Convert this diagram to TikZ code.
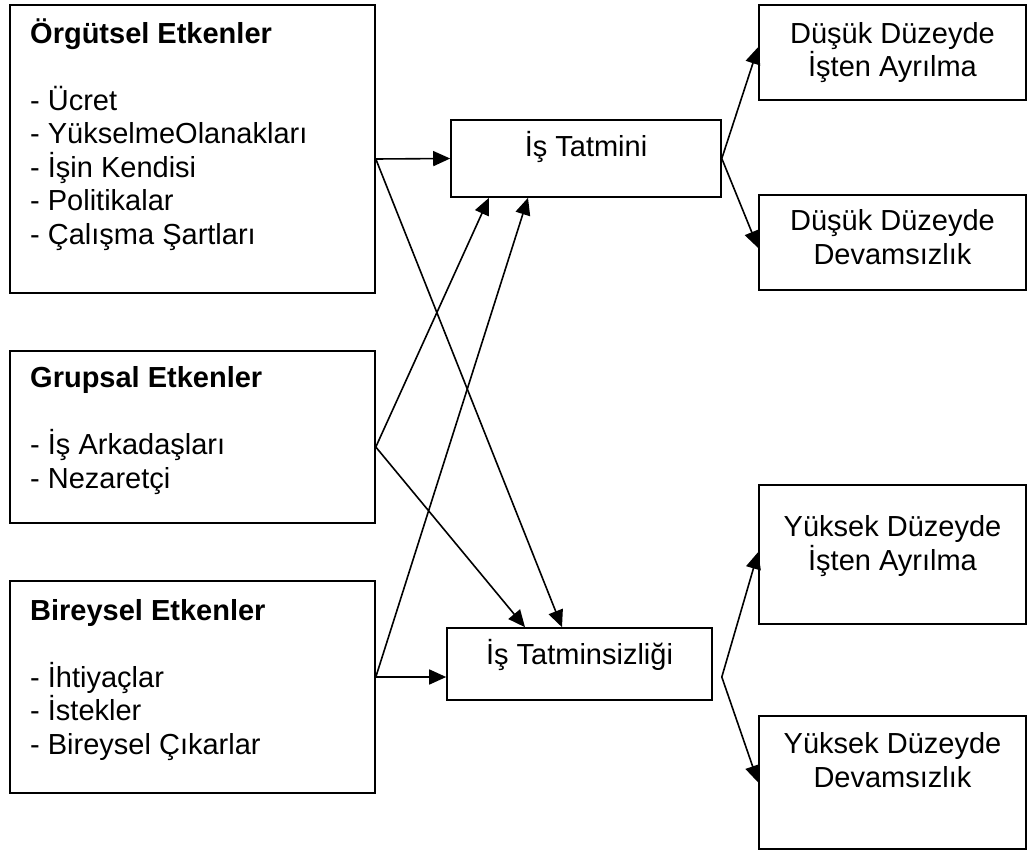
\documentclass[tikz,border=0pt]{standalone}
\usepackage{fontspec}
\setmainfont{Liberation Sans}
\usetikzlibrary{arrows.meta}

\begin{document}
\begin{tikzpicture}[x=1pt, y=-1pt,
  box/.style={draw, line width=1.6pt, inner sep=0pt, minimum width=#1},
  txt/.style={font=\fontsize{29}{33.5}\selectfont, inner sep=0pt},
  % multi-line texts are placed by the baseline of their last line
  lst/.style={txt, align=left, anchor=base west},
  ctr/.style={txt, align=center, anchor=base},
  link/.style={line width=1.6pt, -{Triangle[length=17pt, width=15pt]}}]

  \useasboundingbox (0,0) rectangle (1028,853);

  % factor boxes on the left
  \node[box=365pt, minimum height=288pt] (org) at (192.5,149) {};
  \node[box=365pt, minimum height=172pt] (grp) at (192.5,437) {};
  \node[box=365pt, minimum height=212pt] (bir) at (192.5,687) {};

  \node[lst] (orgT) at (30,244) {\textbf{Örgütsel Etkenler}\\[33.5pt]
    - Ücret\\- YükselmeOlanakları\\- İşin Kendisi\\- Politikalar\\- Çalışma Şartları};
  \node[lst] (grpT) at (30,488) {\textbf{Grupsal Etkenler}\\[33.5pt]
    - İş Arkadaşları\\- Nezaretçi};
  \node[lst] (birT) at (30,754) {\textbf{Bireysel Etkenler}\\[33.5pt]
    - İhtiyaçlar\\- İstekler\\- Bireysel Çıkarlar};

  % satisfaction / dissatisfaction
  \node[box=270pt, minimum height=77pt] (tat) at (586,158.5) {};
  \node[box=265pt, minimum height=72pt] (tsz) at (579.5,664) {};
  \node[ctr] (tatT) at (586,157) {İş Tatmini};
  \node[ctr] (tszT) at (579.5,664) {İş Tatminsizliği};

  % outcome boxes on the right
  \node[box=267pt, minimum height=95pt]  (d1) at (892.5,52.5) {};
  \node[box=267pt, minimum height=95pt]  (d2) at (892.5,242.5) {};
  \node[box=267pt, minimum height=139pt] (y1) at (892.5,554.5) {};
  \node[box=267pt, minimum height=133pt] (y2) at (892.5,782.5) {};

  \node[ctr] (d1T) at (892.5,77)  {Düşük Düzeyde\\İşten Ayrılma};
  \node[ctr] (d2T) at (892.5,264) {Düşük Düzeyde\\Devamsızlık};
  \node[ctr] (y1T) at (892.5,570) {Yüksek Düzeyde\\İşten Ayrılma};
  \node[ctr] (y2T) at (892.5,787) {Yüksek Düzeyde\\Devamsızlık};

  % connectors from the factors
  \draw[link] ([yshift=-10pt]org.east) -- (tat.west);
  \draw[link] ([yshift=-10pt]org.east) -- ([xshift=-17.5pt]tsz.north);
  \draw[link] ([yshift=-10pt]grp.east) -- ([xshift=-97pt]tat.south);
  \draw[link] ([yshift=-10pt]grp.east) -- ([xshift=-54.5pt]tsz.north);
  \draw[link] ([yshift=10pt]bir.east) -- ([yshift=-13pt]tsz.west);
  \draw[link] ([yshift=10pt]bir.east) -- ([xshift=-58pt]tat.south);

  % connectors to the outcomes
  \draw[link] (tat.east) -- ([yshift=5.5pt]d1.west);
  \draw[link] (tat.east) -- ([yshift=-5.5pt]d2.west);
  \draw[link] ([xshift=9pt,yshift=-13pt]tsz.east) -- ([yshift=2.5pt]y1.west);
  \draw[link] ([xshift=9pt,yshift=-13pt]tsz.east) -- (y2.west);
\end{tikzpicture}
\end{document}
